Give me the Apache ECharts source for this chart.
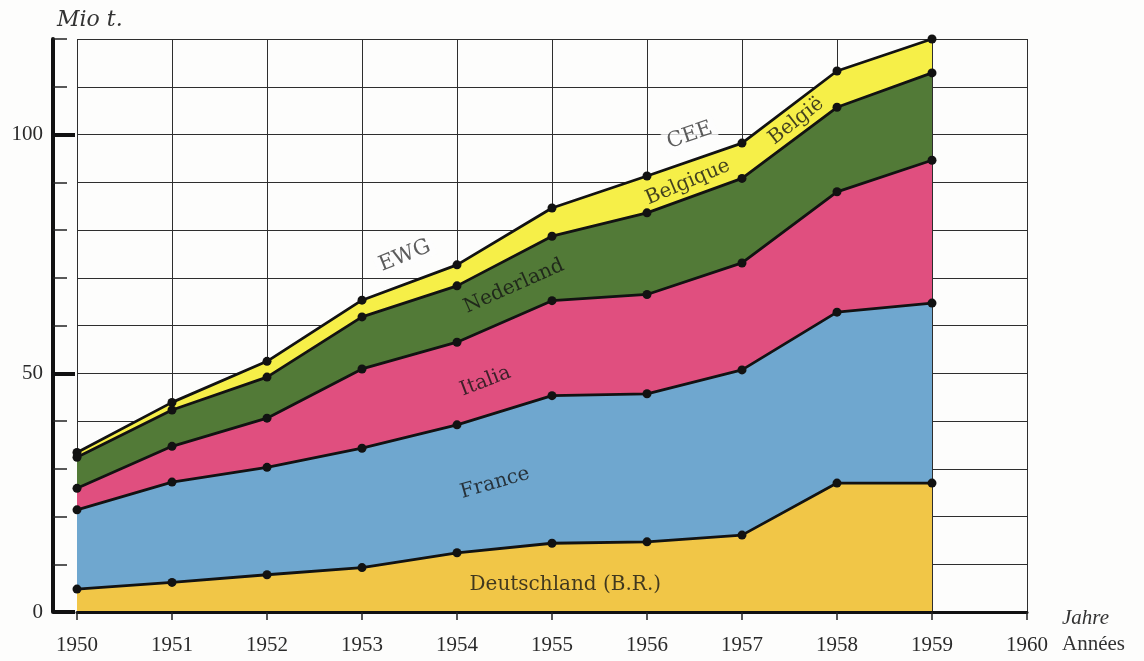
<!DOCTYPE html>
<html>
<head>
<meta charset="utf-8">
<script src="https://cdn.jsdelivr.net/npm/echarts@6/dist/echarts.min.js"></script>
<style>
html,body{margin:0;padding:0;background:#fdfdfc;}
#chart{width:1144px;height:661px;}
</style>
</head>
<body>
<div id="chart"></div>
<script>
// Years (x axis)
const years = [1950, 1951, 1952, 1953, 1954, 1955, 1956, 1957, 1958, 1959];
// Individual values per country, Mio t. (stacked bottom to top)
const deutschland = [4.8, 6.2, 7.8, 9.3, 12.4, 14.4, 14.7, 16.1, 27.0, 27.0];
const france      = [16.6, 21.0, 22.5, 25.0, 26.8, 30.9, 31.0, 34.6, 35.8, 37.7];
const italia      = [4.5, 7.5, 10.3, 16.6, 17.3, 19.9, 20.8, 22.4, 25.2, 29.9];
const nederland   = [6.5, 7.6, 8.6, 10.9, 11.8, 13.5, 17.1, 17.7, 17.7, 18.3];
const belgique    = [1.0, 1.6, 3.3, 3.5, 4.4, 5.9, 7.7, 7.4, 7.6, 7.1];
// Tick labels
const yTickLabels = [0, 50, 100];
const xTickLabels = [1950, 1951, 1952, 1953, 1954, 1955, 1956, 1957, 1958, 1959, 1960];
// Area label texts
const areaLabels = ['Deutschland (B.R.)', 'France', 'Italia', 'Nederland', 'Belgique', 'België', 'EWG', 'CEE'];

const seriesDefs = [
  {name: 'Deutschland (B.R.)', data: deutschland, color: '#f1c647', z: 7},
  {name: 'France', data: france, color: '#6fa7cf', z: 6},
  {name: 'Italia', data: italia, color: '#e04f7f', z: 5},
  {name: 'Nederland', data: nederland, color: '#527a37', z: 4},
  {name: 'Belgique', data: belgique, color: '#f6ef48', z: 3}
];

// annotation placement in data coordinates [year, value, rotation]
const labelPlacement = {
  'Deutschland (B.R.)': [1955.14, 5.7, 0],
  'France': [1954.4, 27.0, 16],
  'Italia': [1954.3, 48.3, 21],
  'Nederland': [1954.6, 68.2, 24],
  'Belgique': [1956.43, 90.0, 23],
  'België': [1957.57, 102.8, 38],
  'EWG': [1953.45, 74.6, 22],
  'CEE': [1956.45, 99.8, 19]
};

const chart = echarts.init(document.getElementById('chart'), null, {renderer: 'canvas'});

// cumulative totals (stack) built from the country arrays
const running = years.map(() => 0);
const series = seriesDefs.map(s => {
  const pts = years.map((y, i) => {
    running[i] += s.data[i];
    return [y, +running[i].toFixed(2)];
  });
  return {
    name: s.name,
    type: 'line',
    data: pts,
    z: s.z,
    symbol: 'circle',
    symbolSize: 9,
    itemStyle: {color: '#121212'},
    lineStyle: {color: '#121212', width: 2.8},
    areaStyle: {color: s.color, opacity: 1, origin: 'start'},
    silent: true
  };
});

series.push({
  type: 'scatter',
  z: 20,
  silent: true,
  symbolSize: 0,
  data: areaLabels.map(t => {
    const p = labelPlacement[t];
    const boxed = (t === 'EWG' || t === 'CEE');
    return {
      value: [p[0], p[1]],
      label: {
        show: true,
        position: 'inside',
        formatter: t,
        rotate: p[2],
        fontFamily: 'DejaVu Serif',
        fontSize: boxed ? 21 : 20,
        color: boxed ? '#333' : '#141414',
        backgroundColor: boxed ? '#fdfdfc' : 'transparent',
        padding: boxed ? [0, 4] : 0
      }
    };
  })
});

chart.setOption({
  animation: false,
  backgroundColor: '#fdfdfc',
  grid: {left: 77, right: 117, top: 39, bottom: 49},
  xAxis: [
    {
      type: 'value', min: 1950, max: 1960, interval: 1,
      axisLine: {show: false}, axisTick: {show: false}, axisLabel: {show: false},
      splitLine: {show: true, lineStyle: {color: '#2e2e2e', width: 1}}
    },
    {
      type: 'value', min: 1950, max: 1960, interval: 1, position: 'bottom', z: 10,
      axisLine: {show: true, lineStyle: {color: '#111', width: 3}},
      axisTick: {show: true, length: 8, lineStyle: {color: '#222', width: 1.5}},
      axisLabel: {
        show: true, margin: 23, customValues: xTickLabels,
        formatter: v => String(v),
        fontFamily: 'Liberation Serif', fontSize: 21, color: '#2a2a2a'
      },
      splitLine: {show: false}
    }
  ],
  yAxis: [
    {
      type: 'value', min: 0, max: 120, interval: 10, position: 'left', offset: 24,
      axisLine: {show: true, lineStyle: {color: '#111', width: 4}},
      axisTick: {show: true, inside: true, length: 14, lineStyle: {color: '#222', width: 1.5}},
      axisLabel: {show: false},
      splitLine: {show: true, lineStyle: {color: '#2e2e2e', width: 1}}
    },
    {
      type: 'value', min: 0, max: 120, interval: 10, position: 'left', offset: 24,
      axisLine: {show: false},
      axisTick: {show: true, inside: true, length: 22, customValues: yTickLabels, lineStyle: {color: '#111', width: 4}},
      axisLabel: {
        show: true, margin: 10, customValues: yTickLabels,
        fontFamily: 'Liberation Serif', fontSize: 21, color: '#2a2a2a'
      },
      splitLine: {show: false}
    }
  ],
  graphic: [
    {type: 'text', left: 57, top: 9, style: {text: 'Mio t.', font: 'italic 22px "DejaVu Serif"', fill: '#333'}},
    {type: 'text', left: 1062, top: 608, style: {text: 'Jahre', font: 'italic 21px "Liberation Serif"', fill: '#333'}},
    {type: 'text', left: 1062, top: 634, style: {text: 'Années', font: '21px "Liberation Serif"', fill: '#333'}}
  ],
  series: series
});
</script>
</body>
</html>
